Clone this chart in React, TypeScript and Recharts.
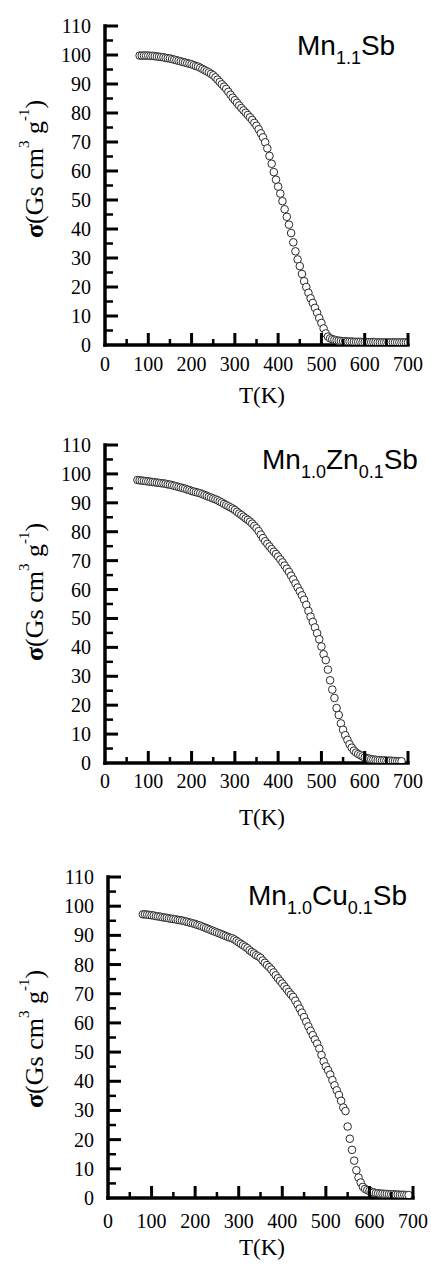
import React from 'react';
import { ScatterChart, Scatter, XAxis, YAxis } from 'recharts';

const X_TICKS = [0, 50, 100, 150, 200, 250, 300, 350, 400, 450, 500, 550, 600, 650, 700];
const Y_TICKS = [0, 5, 10, 15, 20, 25, 30, 35, 40, 45, 50, 55, 60, 65, 70, 75, 80, 85, 90, 95, 100, 105, 110];

// Panel 1: Mn1.1Sb
const T1 = [
  80, 85, 90, 95, 100, 105, 110, 115, 120, 125,
  130, 135, 140, 145, 150, 155, 160, 165, 170, 175,
  180, 185, 190, 195, 200, 205, 210, 215, 220, 225,
  230, 235, 240, 245, 250, 255, 260, 265, 270, 275,
  280, 285, 290, 295, 300, 305, 310, 315, 320, 325,
  330, 335, 340, 345, 350, 355, 360, 365, 370, 375,
  380, 385, 390, 395, 400, 405, 410, 415, 420, 425,
  430, 435, 440, 445, 450, 455, 460, 465, 470, 475,
  480, 485, 490, 495, 500, 505, 510, 515, 520, 525,
  530, 535, 540, 545, 550, 555, 560, 565, 570, 575,
  580, 585, 590, 595, 600, 605, 610, 615, 620, 625,
  630, 635, 640, 645, 650, 655, 660, 665, 670, 675,
  680, 685, 690, 695, 700,
];
const S1 = [
  99.8, 99.8, 99.8, 99.8, 99.8, 99.7, 99.7, 99.6, 99.5, 99.4,
  99.3, 99.2, 99.0, 98.9, 98.8, 98.6, 98.4, 98.2, 98.0, 97.8,
  97.6, 97.4, 97.2, 97.0, 96.8, 96.5, 96.2, 96.0, 95.6, 95.2,
  94.8, 94.4, 94.0, 93.5, 93.0, 92.3, 91.5, 90.7, 89.9, 89.1,
  88.3, 87.3, 86.3, 85.3, 84.4, 83.5, 82.6, 81.7, 80.9, 80.1,
  79.3, 78.5, 77.6, 76.6, 75.6, 74.4, 73.0, 71.6, 69.9, 67.8,
  65.2, 62.5, 59.6, 57.0, 54.6, 52.2, 49.6, 46.8, 44.2, 41.5,
  38.6, 35.4, 32.3, 29.5, 27.2, 24.5, 22.0, 20.0, 18.0, 16.1,
  14.5, 12.8, 11.1, 9.3, 7.6, 5.7, 4.0, 2.9, 2.3, 2.0,
  1.8, 1.6, 1.5, 1.4, 1.3, 1.3, 1.2, 1.2, 1.2, 1.1,
  1.1, 1.1, 1.1, 1.0, 1.0, 1.0, 1.0, 1.0, 1.0, 1.0,
  0.9, 0.9, 0.9, 0.9, 0.9, 0.9, 0.9, 0.9, 0.9, 0.9,
  0.9, 0.9, 0.9, 0.9, 0.9,
];

// Panel 2: Mn1.0Zn0.1Sb
const T2 = [
  75, 80, 85, 90, 95, 100, 105, 110, 115, 120,
  125, 130, 135, 140, 145, 150, 155, 160, 165, 170,
  175, 180, 185, 190, 195, 200, 205, 210, 215, 220,
  225, 230, 235, 240, 245, 250, 255, 260, 265, 270,
  275, 280, 285, 290, 295, 300, 305, 310, 315, 320,
  325, 330, 335, 340, 345, 350, 355, 360, 365, 370,
  375, 380, 385, 390, 395, 400, 405, 410, 415, 420,
  425, 430, 435, 440, 445, 450, 455, 460, 465, 470,
  475, 480, 485, 490, 495, 500, 505, 510, 515, 520,
  525, 530, 535, 540, 545, 550, 555, 560, 565, 570,
  575, 580, 585, 590, 595, 600, 605, 610, 615, 620,
  625, 630, 635, 640, 645, 650, 655, 660, 665, 670,
  675, 680, 685,
];
const S2 = [
  97.9, 97.8, 97.7, 97.6, 97.5, 97.4, 97.3, 97.2, 97.1, 97.0,
  96.9, 96.8, 96.7, 96.6, 96.4, 96.3, 96.1, 95.9, 95.7, 95.5,
  95.3, 95.1, 94.9, 94.6, 94.4, 94.1, 93.9, 93.7, 93.5, 93.3,
  93.0, 92.7, 92.4, 92.1, 91.8, 91.5, 91.2, 90.9, 90.5, 90.1,
  89.6, 89.2, 88.8, 88.4, 88.0, 87.5, 86.9, 86.3, 85.8, 85.2,
  84.6, 84.1, 83.5, 82.8, 82.0, 81.2, 80.2, 79.0, 77.8, 76.7,
  75.8, 74.9, 74.0, 73.1, 72.3, 71.4, 70.4, 69.4, 68.3, 67.2,
  66.1, 64.8, 63.5, 62.1, 60.7, 59.4, 58.0, 56.5, 54.7, 52.6,
  50.6, 48.8, 46.9, 44.9, 42.8, 40.3, 37.6, 35.6, 32.3, 28.6,
  25.4, 22.5, 19.0, 16.6, 13.7, 11.5, 9.6, 8.0, 6.5, 5.3,
  4.3, 3.6, 3.1, 2.7, 2.3, 1.9, 1.7, 1.5, 1.3, 1.2,
  1.1, 1.0, 1.0, 0.9, 0.9, 0.8, 0.8, 0.8, 0.7, 0.7,
  0.6, 0.6, 0.6,
];

// Panel 3: Mn1.0Cu0.1Sb
const T3 = [
  80, 85, 90, 95, 100, 105, 110, 115, 120, 125,
  130, 135, 140, 145, 150, 155, 160, 165, 170, 175,
  180, 185, 190, 195, 200, 205, 210, 215, 220, 225,
  230, 235, 240, 245, 250, 255, 260, 265, 270, 275,
  280, 285, 290, 295, 300, 305, 310, 315, 320, 325,
  330, 335, 340, 345, 350, 355, 360, 365, 370, 375,
  380, 385, 390, 395, 400, 405, 410, 415, 420, 425,
  430, 435, 440, 445, 450, 455, 460, 465, 470, 475,
  480, 485, 490, 495, 500, 505, 510, 515, 520, 525,
  530, 535, 540, 545, 550, 555, 560, 565, 570, 575,
  580, 585, 590, 595, 600, 605, 610, 615, 620, 625,
  630, 635, 640, 645, 650, 655, 660, 665, 670, 675,
  680, 685, 690,
];
const S3 = [
  97.2, 97.2, 97.1, 97.0, 96.9, 96.8, 96.6, 96.5, 96.4, 96.2,
  96.1, 96.0, 95.8, 95.7, 95.6, 95.5, 95.3, 95.2, 95.1, 94.9,
  94.7, 94.5, 94.3, 94.1, 93.9, 93.6, 93.4, 93.1, 92.8, 92.5,
  92.2, 91.9, 91.6, 91.3, 91.0, 90.7, 90.4, 90.1, 89.8, 89.5,
  89.2, 89.0, 88.6, 88.1, 87.6, 87.1, 86.6, 86.1, 85.6, 84.9,
  84.3, 83.8, 83.2, 82.8, 82.3, 81.4, 80.6, 79.8, 79.1, 78.3,
  77.3, 76.3, 75.3, 74.4, 73.5, 72.5, 71.6, 70.6, 69.7, 68.9,
  67.6, 66.3, 64.9, 63.5, 62.0, 60.4, 58.8, 57.3, 55.8, 54.3,
  52.9, 51.2, 49.0, 46.8, 45.1, 43.8, 42.3, 40.4, 38.6, 36.9,
  35.3, 33.3, 31.0, 29.8, 24.5, 20.3, 16.5, 12.8, 9.5, 7.0,
  5.3, 3.8, 3.1, 2.7, 2.4, 2.1, 1.9, 1.7, 1.6, 1.5,
  1.5, 1.4, 1.4, 1.3, 1.3, 1.3, 1.2, 1.2, 1.1, 1.1,
  1.1, 1.0, 1.0,
];

const SERIF = '"Liberation Serif", "Times New Roman", serif';
const SANS = '"Liberation Sans", Arial, sans-serif';

const toData = (t: number[], s: number[]) => t.map((v, i) => ({ T: v, s: s[i] }));

const makeXTick = (labelOffset: number) => (props: any) => {
  const { x, y, payload } = props;
  const v = payload.value;
  const major = v % 100 === 0;
  return (
    <g>
      {v !== 0 && (
        <line x1={x} x2={x} y1={y} y2={y - (major ? 12 : 6)} stroke="#000" strokeWidth={major ? 3 : 2.5} />
      )}
      {major && (
        <text x={x} y={y + labelOffset} textAnchor="middle" fontFamily={SERIF} fontSize={20} fill="#000">
          {v}
        </text>
      )}
    </g>
  );
};

const yTick = (props: any) => {
  const { x, y, payload } = props;
  const v = payload.value;
  const major = v % 10 === 0;
  return (
    <g>
      {v !== 0 && (
        <line x1={x} x2={x + (major ? 13 : 8)} y1={y} y2={y} stroke="#000" strokeWidth={major ? 3 : 2.5} />
      )}
      {major && (
        <text x={x - 14} y={y + 7} textAnchor="end" fontFamily={SERIF} fontSize={20} fill="#000">
          {v}
        </text>
      )}
    </g>
  );
};

const dot = (props: any) => (
  <circle cx={props.cx} cy={props.cy} r={3.8} fill="#fff" stroke="#2a2a2a" strokeWidth={1} />
);

type PanelProps = {
  data: { T: number; s: number }[];
  height: number;
  margin: { top: number; right: number; bottom: number; left: number };
  title: [string, string, string?, string?, string?];
  titleX: number;
  titleY: number;
  yLabelX: number;
  yLabelY: number;
  xLabelY: number;
  xTickOffset: number;
};

function Panel(p: PanelProps) {
  const [a, b, c, d, e] = p.title;
  return (
    <ScatterChart width={431} height={p.height} margin={p.margin}>
      <XAxis
        type="number"
        dataKey="T"
        domain={[0, 700]}
        ticks={X_TICKS}
        interval={0}
        tickLine={false}
        tickSize={0}
        tickMargin={0}
        tick={makeXTick(p.xTickOffset)}
        axisLine={{ stroke: '#000', strokeWidth: 3.5, strokeLinecap: 'square' }}
        height={40}
        allowDataOverflow
      />
      <YAxis
        type="number"
        dataKey="s"
        domain={[0, 110]}
        ticks={Y_TICKS}
        interval={0}
        tickLine={false}
        tickSize={0}
        tickMargin={0}
        tick={yTick}
        axisLine={{ stroke: '#000', strokeWidth: 3.5, strokeLinecap: 'square' }}
        width={60}
        allowDataOverflow
      />
      <Scatter data={p.data} shape={dot} isAnimationActive={false} />
      <text x={p.titleX} y={p.titleY} fontFamily={SANS} fontSize={28} fill="#000">
        {a}
        <tspan fontSize={18} dy={9}>{b}</tspan>
        {c && <tspan dy={-9}>{c}</tspan>}
        {d && <tspan fontSize={18} dy={9}>{d}</tspan>}
        {e && <tspan dy={-9}>{e}</tspan>}
      </text>
      <text
        x={p.yLabelX}
        y={p.yLabelY}
        transform={`rotate(-90 ${p.yLabelX} ${p.yLabelY})`}
        textAnchor="middle"
        dominantBaseline="central"
        fontFamily={SERIF}
        fontSize={26}
        fill="#000"
      >
        <tspan fontWeight="bold">σ</tspan>
        <tspan>(Gs cm</tspan>
        <tspan fontSize={15} dy={-10}>3</tspan>
        <tspan dy={10}> g</tspan>
        <tspan fontSize={15} dy={-10}>-1</tspan>
        <tspan dy={10}>)</tspan>
      </text>
      <text x={262} y={p.xLabelY} textAnchor="middle" fontFamily={SERIF} fontSize={23} fill="#000">
        T(K)
      </text>
    </ScatterChart>
  );
}

export default function App() {
  return (
    <div style={{ position: 'absolute', left: 0, top: 0, width: 431, height: 1264, background: '#fff' }}>
      <div style={{ position: 'absolute', left: 0, top: 0 }}>
        <Panel
          data={toData(T1, S1)}
          height={420}
          margin={{ top: 26, right: 23, bottom: 35, left: 45 }}
          title={['Mn', '1.1', 'Sb']}
          titleX={297}
          titleY={55}
          yLabelX={34}
          yLabelY={169}
          xLabelY={403}
          xTickOffset={26}
        />
      </div>
      <div style={{ position: 'absolute', left: 0, top: 420 }}>
        <Panel
          data={toData(T2, S2)}
          height={420}
          margin={{ top: 25, right: 23, bottom: 37, left: 45 }}
          title={['Mn', '1.0', 'Zn', '0.1', 'Sb']}
          titleX={262}
          titleY={49}
          yLabelX={34}
          yLabelY={172}
          xLabelY={405}
          xTickOffset={25}
        />
      </div>
      <div style={{ position: 'absolute', left: 0, top: 840 }}>
        <Panel
          data={toData(T3, S3)}
          height={424}
          margin={{ top: 37, right: 18, bottom: 26, left: 48 }}
          title={['Mn', '1.0', 'Cu', '0.1', 'Sb']}
          titleX={248}
          titleY={65}
          yLabelX={34}
          yLabelY={199}
          xLabelY={415}
          xTickOffset={30}
        />
      </div>
    </div>
  );
}
